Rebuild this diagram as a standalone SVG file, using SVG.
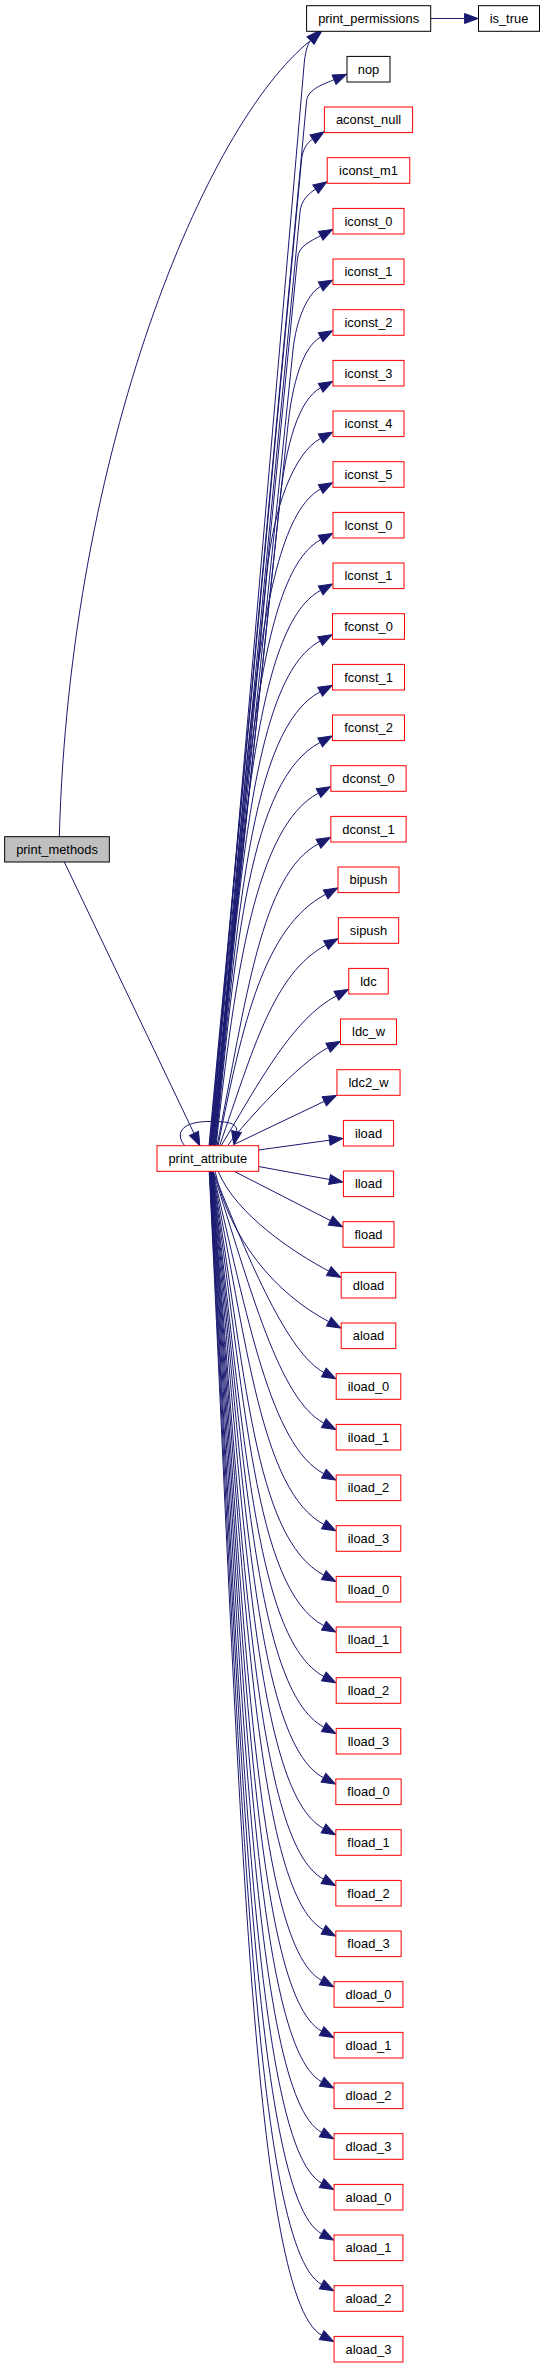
<svg xmlns="http://www.w3.org/2000/svg" width="545" height="2368" viewBox="0 0 545 2368">
<style>
.nd rect{fill:#ffffff;stroke:#ff0000;stroke-width:1}
.nd.k rect{stroke:#000000}
.nd.g rect{fill:#bfbfbf;stroke:#000000}
.nd text{font-family:"Liberation Sans",Arial,Helvetica,sans-serif;font-size:12.9px;fill:#000000;text-anchor:middle}
#edges path{fill:none;stroke:#191970;stroke-width:1;marker-end:url(#ah)}
</style>
<defs>
<marker id="ah" viewBox="0 0 14 10" refX="0" refY="5" markerWidth="14" markerHeight="10" markerUnits="userSpaceOnUse" orient="auto" style="overflow:visible">
<path d="M0,0 L13.5,5 L0,10 Z" fill="#191970" stroke="#191970" stroke-width="1"/>
</marker>
</defs>
<rect x="0" y="0" width="545" height="2368" fill="#ffffff"/>
<g id="edges">
<path d="M59.3,836.7 C70,450 205,125 310.8,40.3"/>
<path d="M64.3,862 L194,1133.4"/>
<path d="M430.7,18.5 L464.6,18.5"/>
<path d="M185,1146 C176,1136 178,1122 208,1121.5 C230,1121 238,1124 236.5,1131.5"/>
<path d="M211,1146 L304.5,60 C306,50 307.5,44 310.8,40.3"/>
<path d="M209,1146 L306.6,100.8 C307.7,88.9 324.9,83.6 334.1,79.7"/>
<path d="M209.5,1146 L301.5,160 C302.4,150 306.8,142.9 312.7,139.1"/>
<path d="M210,1146 L300,212 C301.1,200 308.8,193.5 315.55,189.1"/>
<path d="M210.5,1146 L297.5,258 C298.6,246 311.5,240.6 320.64,235.8"/>
<path d="M211,1146 L293,350 C296.1,320.2 307.4,293.4 320.64,286.4"/>
<path d="M211.5,1146 L288,425 C292.4,383.2 303,346.5 320.64,337.1"/>
<path d="M212,1146 L280,500 C285.8,445.3 298.6,399.5 320.64,387.8"/>
<path d="M212.5,1146 L267,573 C273.2,508.3 294.1,452.5 320.64,438.4"/>
<path d="M213,1146 C245.7,819.1 250,526.6 320.64,489.07"/>
<path d="M213.5,1146 C243.7,844.4 250,577.3 320.64,539.77"/>
<path d="M214,1146 C241.6,869.6 250,627.9 320.64,590.37"/>
<path d="M214.5,1146 C239.6,894.8 249.5,678.6 320.14,641.07"/>
<path d="M215,1146 C237.6,920 249.5,729.3 320.14,691.77"/>
<path d="M215.5,1146 C235.6,945.2 249.5,779.9 320.14,742.37"/>
<path d="M216,1146 C235.3,970.6 256.2,826.2 318.49,793.07"/>
<path d="M217,1146 C246.6,997.8 261.1,874.3 318.49,843.77"/>
<path d="M218,1146 C242.7,1022.6 263.8,927.2 325.64,894.37"/>
<path d="M219.5,1146 C252.7,1051.1 273,973.2 325.99,945.07"/>
<path d="M221,1146 C259.6,1081.7 292.2,1019.2 336.39,995.77"/>
<path d="M228,1145 C245,1122 300,1062 328.1,1047.6"/>
<path d="M235,1144 L324.3,1101.3"/>
<path d="M258.5,1150 L329.5,1140.2"/>
<path d="M258.5,1166.5 L329.6,1179.5"/>
<path d="M233.5,1171 L330.5,1220.6"/>
<path d="M218,1171 C236,1215 295.2,1253.3 328.8,1271.1"/>
<path d="M215,1171 C230,1240 275.8,1293.6 328.8,1321.7"/>
<path d="M213,1171 C250.4,1264.5 288.2,1353.5 323.84,1372.43"/>
<path d="M212.8,1171 C251.2,1291.1 279.3,1399.5 323.84,1423.13"/>
<path d="M212.6,1171 C247.9,1318.2 270.4,1445.3 323.84,1473.73"/>
<path d="M212.4,1171 C247.1,1344.3 261.4,1491.2 323.84,1524.43"/>
<path d="M212.2,1171 C246.1,1370.2 253.2,1537.6 323.84,1575.13"/>
<path d="M212,1171 C245.7,1395.9 253.2,1588.2 323.84,1625.73"/>
<path d="M211.8,1171 C244.4,1421.6 253.2,1638.9 323.84,1676.43"/>
<path d="M211.6,1171 C244.7,1447.1 253.2,1689.6 323.84,1727.13"/>
<path d="M211.4,1171 C244.6,1472.6 252.85,1740.2 323.49,1777.73"/>
<path d="M211.2,1171 C243.9,1498.1 252.85,1790.9 323.49,1828.43"/>
<path d="M211,1171 C242.7,1523.7 252.85,1841.6 323.49,1879.13"/>
<path d="M210.8,1171 C242.9,1549 252.85,1892.2 323.49,1929.73"/>
<path d="M210.6,1171 C242.9,1574.4 251.05,1942.9 321.69,1980.43"/>
<path d="M210.4,1171 C242.6,1599.9 251.05,1993.6 321.69,2031.13"/>
<path d="M210.2,1171 C242,1625.3 251.05,2044.2 321.69,2081.73"/>
<path d="M210,1171 C241.2,1650.7 251.05,2094.9 321.69,2132.43"/>
<path d="M209.8,1171 C240.1,1676.2 251.05,2145.6 321.69,2183.13"/>
<path d="M209.6,1171 C239.8,1701.5 251.05,2196.2 321.69,2233.73"/>
<path d="M209.4,1171 C238.9,1726.9 251.05,2246.9 321.69,2284.43"/>
<path d="M209.2,1171 C238.3,1752.4 251.05,2297.6 321.69,2335.13"/>
</g>
<g id="node_print_methods" class="nd g"><rect x="4.65" y="836.7" width="104.7" height="25.3"/><text x="57" y="853.8">print_methods</text></g>
<g id="node_print_attribute" class="nd"><rect x="157" y="1145.7" width="101.7" height="25.6"/><text x="207.85" y="1163">print_attribute</text></g>
<g id="node_print_permissions" class="nd k"><rect x="306.6" y="5.7" width="124.1" height="25.6"/><text x="368.65" y="23">print_permissions</text></g>
<g id="node_is_true" class="nd k"><rect x="478.5" y="5.7" width="61" height="25.6"/><text x="509" y="23">is_true</text></g>
<g id="node_nop" class="nd k"><rect x="347" y="56.4" width="43" height="25.6"/><text x="368.5" y="73.7">nop</text></g>
<g id="node_aconst_null" class="nd"><rect x="324.4" y="107" width="88.2" height="25.6"/><text x="368.5" y="124.3">aconst_null</text></g>
<g id="node_iconst_m1" class="nd"><rect x="327.2" y="157.7" width="82.6" height="25.6"/><text x="368.5" y="175">iconst_m1</text></g>
<g id="node_iconst_0" class="nd"><rect x="333" y="208.4" width="71" height="25.6"/><text x="368.5" y="225.7">iconst_0</text></g>
<g id="node_iconst_1" class="nd"><rect x="333" y="259" width="71" height="25.6"/><text x="368.5" y="276.3">iconst_1</text></g>
<g id="node_iconst_2" class="nd"><rect x="333" y="309.7" width="71" height="25.6"/><text x="368.5" y="327">iconst_2</text></g>
<g id="node_iconst_3" class="nd"><rect x="333" y="360.4" width="71" height="25.6"/><text x="368.5" y="377.7">iconst_3</text></g>
<g id="node_iconst_4" class="nd"><rect x="333" y="411" width="71" height="25.6"/><text x="368.5" y="428.3">iconst_4</text></g>
<g id="node_iconst_5" class="nd"><rect x="333" y="461.7" width="71" height="25.6"/><text x="368.5" y="479">iconst_5</text></g>
<g id="node_lconst_0" class="nd"><rect x="333" y="512.4" width="71" height="25.6"/><text x="368.5" y="529.7">lconst_0</text></g>
<g id="node_lconst_1" class="nd"><rect x="333" y="563" width="71" height="25.6"/><text x="368.5" y="580.3">lconst_1</text></g>
<g id="node_fconst_0" class="nd"><rect x="332.5" y="613.7" width="72" height="25.6"/><text x="368.5" y="631">fconst_0</text></g>
<g id="node_fconst_1" class="nd"><rect x="332.5" y="664.4" width="72" height="25.6"/><text x="368.5" y="681.7">fconst_1</text></g>
<g id="node_fconst_2" class="nd"><rect x="332.5" y="715" width="72" height="25.6"/><text x="368.5" y="732.3">fconst_2</text></g>
<g id="node_dconst_0" class="nd"><rect x="330.85" y="765.7" width="75.3" height="25.6"/><text x="368.5" y="783">dconst_0</text></g>
<g id="node_dconst_1" class="nd"><rect x="330.85" y="816.4" width="75.3" height="25.6"/><text x="368.5" y="833.7">dconst_1</text></g>
<g id="node_bipush" class="nd"><rect x="338" y="867" width="61" height="25.6"/><text x="368.5" y="884.3">bipush</text></g>
<g id="node_sipush" class="nd"><rect x="338.35" y="917.7" width="60.3" height="25.6"/><text x="368.5" y="935">sipush</text></g>
<g id="node_ldc" class="nd"><rect x="348.75" y="968.4" width="39.5" height="25.6"/><text x="368.5" y="985.7">ldc</text></g>
<g id="node_ldc_w" class="nd"><rect x="340.5" y="1019" width="56" height="25.6"/><text x="368.5" y="1036.3">ldc_w</text></g>
<g id="node_ldc2_w" class="nd"><rect x="336.95" y="1069.7" width="63.1" height="25.6"/><text x="368.5" y="1087">ldc2_w</text></g>
<g id="node_iload" class="nd"><rect x="343.4" y="1120.4" width="50.2" height="25.6"/><text x="368.5" y="1137.7">iload</text></g>
<g id="node_lload" class="nd"><rect x="343.4" y="1171" width="50.2" height="25.6"/><text x="368.5" y="1188.3">lload</text></g>
<g id="node_fload" class="nd"><rect x="343" y="1221.7" width="51" height="25.6"/><text x="368.5" y="1239">fload</text></g>
<g id="node_dload" class="nd"><rect x="341.2" y="1272.4" width="54.6" height="25.6"/><text x="368.5" y="1289.7">dload</text></g>
<g id="node_aload" class="nd"><rect x="341.2" y="1323" width="54.6" height="25.6"/><text x="368.5" y="1340.3">aload</text></g>
<g id="node_iload_0" class="nd"><rect x="336.2" y="1373.7" width="64.6" height="25.6"/><text x="368.5" y="1391">iload_0</text></g>
<g id="node_iload_1" class="nd"><rect x="336.2" y="1424.4" width="64.6" height="25.6"/><text x="368.5" y="1441.7">iload_1</text></g>
<g id="node_iload_2" class="nd"><rect x="336.2" y="1475" width="64.6" height="25.6"/><text x="368.5" y="1492.3">iload_2</text></g>
<g id="node_iload_3" class="nd"><rect x="336.2" y="1525.7" width="64.6" height="25.6"/><text x="368.5" y="1543">iload_3</text></g>
<g id="node_lload_0" class="nd"><rect x="336.2" y="1576.4" width="64.6" height="25.6"/><text x="368.5" y="1593.7">lload_0</text></g>
<g id="node_lload_1" class="nd"><rect x="336.2" y="1627" width="64.6" height="25.6"/><text x="368.5" y="1644.3">lload_1</text></g>
<g id="node_lload_2" class="nd"><rect x="336.2" y="1677.7" width="64.6" height="25.6"/><text x="368.5" y="1695">lload_2</text></g>
<g id="node_lload_3" class="nd"><rect x="336.2" y="1728.4" width="64.6" height="25.6"/><text x="368.5" y="1745.7">lload_3</text></g>
<g id="node_fload_0" class="nd"><rect x="335.85" y="1779" width="65.3" height="25.6"/><text x="368.5" y="1796.3">fload_0</text></g>
<g id="node_fload_1" class="nd"><rect x="335.85" y="1829.7" width="65.3" height="25.6"/><text x="368.5" y="1847">fload_1</text></g>
<g id="node_fload_2" class="nd"><rect x="335.85" y="1880.4" width="65.3" height="25.6"/><text x="368.5" y="1897.7">fload_2</text></g>
<g id="node_fload_3" class="nd"><rect x="335.85" y="1931" width="65.3" height="25.6"/><text x="368.5" y="1948.3">fload_3</text></g>
<g id="node_dload_0" class="nd"><rect x="334.05" y="1981.7" width="68.9" height="25.6"/><text x="368.5" y="1999">dload_0</text></g>
<g id="node_dload_1" class="nd"><rect x="334.05" y="2032.4" width="68.9" height="25.6"/><text x="368.5" y="2049.7">dload_1</text></g>
<g id="node_dload_2" class="nd"><rect x="334.05" y="2083" width="68.9" height="25.6"/><text x="368.5" y="2100.3">dload_2</text></g>
<g id="node_dload_3" class="nd"><rect x="334.05" y="2133.7" width="68.9" height="25.6"/><text x="368.5" y="2151">dload_3</text></g>
<g id="node_aload_0" class="nd"><rect x="334.05" y="2184.4" width="68.9" height="25.6"/><text x="368.5" y="2201.7">aload_0</text></g>
<g id="node_aload_1" class="nd"><rect x="334.05" y="2235" width="68.9" height="25.6"/><text x="368.5" y="2252.3">aload_1</text></g>
<g id="node_aload_2" class="nd"><rect x="334.05" y="2285.7" width="68.9" height="25.6"/><text x="368.5" y="2303">aload_2</text></g>
<g id="node_aload_3" class="nd"><rect x="334.05" y="2336.4" width="68.9" height="25.6"/><text x="368.5" y="2353.7">aload_3</text></g>
</svg>
